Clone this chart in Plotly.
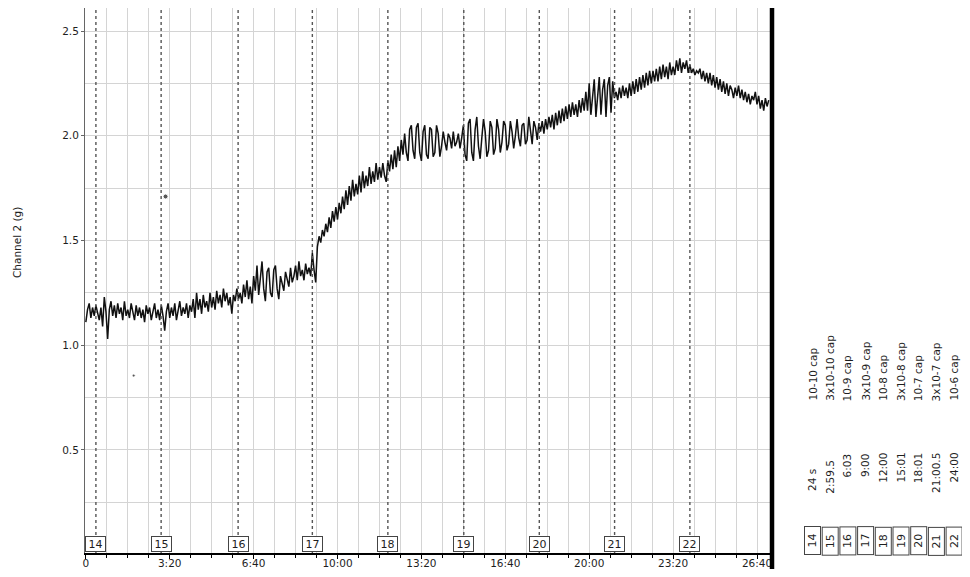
import numpy as np
import plotly.graph_objects as go

# ---------------- data ----------------
SAMPLE_STEP_S = 4  # seconds between the read samples below

channel2_g = [
    # 0 - 96 s
    1.11, 1.17, 1.20, 1.13, 1.18, 1.14, 1.19, 1.15, 1.12, 1.18, 1.09, 1.23, 1.16,
    1.03, 1.17, 1.21, 1.14, 1.19, 1.13, 1.20, 1.15, 1.18, 1.12, 1.21, 1.14,
    # 100 - 196 s
    1.17, 1.13, 1.20, 1.15, 1.12, 1.19, 1.14, 1.18, 1.13, 1.17, 1.11, 1.19, 1.15,
    1.18, 1.12, 1.16, 1.20, 1.13, 1.17, 1.12, 1.19, 1.14, 1.07, 1.16, 1.20,
    # 200 - 296 s
    1.13, 1.18, 1.14, 1.20, 1.12, 1.17, 1.21, 1.14, 1.18, 1.15, 1.20, 1.13, 1.19,
    1.16, 1.22, 1.13, 1.25, 1.17, 1.22, 1.15, 1.24, 1.18, 1.21, 1.16, 1.25,
    # 300 - 396 s
    1.18, 1.23, 1.17, 1.26, 1.20, 1.24, 1.18, 1.27, 1.21, 1.25, 1.19, 1.23, 1.15,
    1.24, 1.21, 1.27, 1.22, 1.25, 1.20, 1.29, 1.23, 1.31, 1.22, 1.28, 1.20,
    # 400 - 496 s
    1.33, 1.26, 1.38, 1.24, 1.31, 1.40, 1.27, 1.21, 1.35, 1.37, 1.25, 1.23, 1.36,
    1.38, 1.27, 1.22, 1.33, 1.30, 1.26, 1.35, 1.31, 1.28, 1.37, 1.30, 1.33,
    # 500 - 596 s
    1.38, 1.31, 1.40, 1.33, 1.36, 1.31, 1.39, 1.34, 1.37, 1.33, 1.44, 1.36, 1.30,
    1.47, 1.52, 1.49, 1.55, 1.52, 1.58, 1.54, 1.61, 1.56, 1.64, 1.59, 1.66,
    # 600 - 696 s
    1.60, 1.68, 1.63, 1.71, 1.65, 1.74, 1.67, 1.76, 1.69, 1.79, 1.71, 1.77, 1.72,
    1.81, 1.73, 1.83, 1.75, 1.81, 1.76, 1.85, 1.77, 1.83, 1.78, 1.87, 1.79,
    # 700 - 796 s
    1.85, 1.80, 1.87, 1.81, 1.78, 1.88, 1.83, 1.91, 1.84, 1.93, 1.85, 1.95, 1.88,
    1.98, 1.91, 2.01, 1.92, 1.88, 2.03, 2.05, 1.93, 1.89, 2.04, 2.06, 1.92,
    # 800 - 896 s
    1.88, 2.02, 2.05, 1.91, 1.89, 2.04, 2.03, 1.90, 1.92, 2.05, 2.01, 1.90, 1.95,
    2.02, 1.97, 1.93, 2.01, 1.99, 1.94, 2.02, 1.95, 1.97, 2.01, 1.94, 1.99,
    # 900 - 996 s
    2.05, 1.91, 1.88, 2.06, 2.08, 1.92, 1.88, 2.03, 2.09, 1.95, 1.89, 1.99, 2.08,
    2.02, 1.90, 1.93, 2.07, 2.04, 1.91, 1.94, 2.08, 2.03, 1.92, 1.97, 2.07,
    # 1000 - 1096 s
    2.05, 1.93, 1.96, 2.07, 2.02, 1.94, 2.00, 2.08, 1.99, 1.95, 2.05, 2.06, 1.96,
    1.98, 2.09, 2.01, 1.96, 2.07, 2.04, 1.98, 2.06, 2.02, 2.07, 2.01, 2.08,
    # 1100 - 1196 s
    2.03, 2.09, 2.04, 2.10, 2.03, 2.11, 2.05, 2.12, 2.06, 2.13, 2.07, 2.14, 2.08,
    2.15, 2.09, 2.16, 2.10, 2.15, 2.09, 2.17, 2.11, 2.18, 2.12, 2.21, 2.12,
    # 1200 - 1296 s
    2.25, 2.10, 2.18, 2.27, 2.09, 2.20, 2.28, 2.10, 2.22, 2.27, 2.09, 2.24, 2.28,
    2.11, 2.26, 2.18, 2.21, 2.17, 2.23, 2.18, 2.24, 2.19, 2.23, 2.18, 2.25,
    # 1300 - 1396 s
    2.19, 2.26, 2.20, 2.27, 2.21, 2.28, 2.22, 2.29, 2.23, 2.30, 2.24, 2.31, 2.25,
    2.31, 2.26, 2.32, 2.26, 2.33, 2.27, 2.34, 2.28, 2.33, 2.27, 2.35, 2.29,
    # 1400 - 1496 s
    2.33, 2.29, 2.36, 2.31, 2.37, 2.30, 2.35, 2.32, 2.36, 2.30, 2.34, 2.30, 2.32,
    2.29, 2.31, 2.30, 2.32, 2.27, 2.31, 2.26, 2.30, 2.25, 2.30, 2.24, 2.29,
    # 1500 - 1596 s
    2.23, 2.28, 2.22, 2.27, 2.21, 2.26, 2.20, 2.25, 2.19, 2.24, 2.22, 2.18, 2.23,
    2.19, 2.24, 2.18, 2.22, 2.17, 2.21, 2.16, 2.20, 2.15, 2.19, 2.17, 2.21,
    # 1600 - 1628 s
    2.15, 2.19, 2.13, 2.17, 2.12, 2.18, 2.14, 2.17,
]

# event markers (from the side table)
event_ids = ["14", "15", "16", "17", "18", "19", "20", "21", "22"]
event_time_labels = ["24 s", "2:59.5", "6:03", "9:00", "12:00", "15:01", "18:01", "21:00.5", "24:00"]
event_times_s = [24, 179.5, 363, 540, 720, 901, 1081, 1260.5, 1440]
event_desc = ["10-10 cap", "3x10-10 cap", "10-9 cap", "3x10-9 cap", "10-8 cap",
              "3x10-8 cap", "10-7 cap", "3x10-7 cap", "10-6 cap"]

# two dark specks on the scanned page
speck_t = [190, 114]
speck_g = [1.71, 0.855]

x_tick_s = [0, 200, 400, 600, 800, 1000, 1200, 1400, 1600]
x_tick_text = ["0", "3:20", "6:40", "10:00", "13:20", "16:40", "20:00", "23:20", "26:40"]
y_tick_vals = [0.5, 1.0, 1.5, 2.0, 2.5]

# ---------------- figure ----------------
PAGE_OFF = 8           # the page body margin shifts the figure by this much
W, H = 954, 561        # fits the 970x577 window together with the body margin
ML, MR, MT, MB = 77, 192, 0, 16
PW, PH = W - ML - MR, H - MT - MB


def px_x(page_px):
    return (page_px - PAGE_OFF - ML) / PW


def px_y(page_py):
    return (H - MB - (page_py - PAGE_OFF)) / PH


t = np.arange(len(channel2_g)) * SAMPLE_STEP_S

FONT = "DejaVu Sans"
INK = "#1e1e1e"
GRID = "#d4d4d4"

fig = go.Figure()
fig.add_trace(go.Scatter(x=t, y=channel2_g, mode="lines",
                         line=dict(color="#111111", width=1.5),
                         showlegend=False, hoverinfo="skip"))
fig.add_trace(go.Scatter(x=speck_t, y=speck_g, mode="markers",
                         marker=dict(color="#111111", size=[5, 3]),
                         showlegend=False, hoverinfo="skip"))

shapes = []
annotations = []

# dotted event lines + numbered boxes
for ev, ts in zip(event_ids, event_times_s):
    shapes.append(dict(type="line", xref="x", yref="paper", x0=ts, x1=ts, y0=0, y1=1,
                       line=dict(color="#555555", width=1.4, dash="dot"), layer="above"))
    annotations.append(dict(x=ts, y=0, xref="x", yref="paper", yanchor="bottom", yshift=1,
                            text=ev, showarrow=False, bgcolor="white",
                            bordercolor="#444444", borderwidth=1, borderpad=1,
                            width=17, height=12,
                            font=dict(family=FONT, size=11, color=INK)))

# thick black bar on the right edge of the plot
shapes.append(dict(type="line", xref="paper", yref="paper",
                   x0=px_x(772), x1=px_x(772), y0=px_y(580), y1=px_y(6),
                   line=dict(color="black", width=4.5), layer="above"))

# side table (rotated text)
col_x0, col_dx = 812, 17.7
time_offsets = [16, 7, 0, 0, 0, 0, 0, 0, 0]
for i, (ev, tl, ds) in enumerate(zip(event_ids, event_time_labels, event_desc)):
    cx = px_x(col_x0 + i * col_dx)
    annotations.append(dict(x=cx, y=px_y(541), xref="paper", yref="paper",
                            xanchor="center", yanchor="middle",
                            text=ev, showarrow=False, textangle=-90,
                            bordercolor="#444444", borderwidth=1, borderpad=1,
                            width=25, height=13,
                            font=dict(family=FONT, size=11, color=INK)))
    annotations.append(dict(x=cx, y=px_y(451 + time_offsets[i]), xref="paper", yref="paper",
                            xanchor="center", yanchor="top",
                            text=tl, showarrow=False, textangle=-90,
                            font=dict(family=FONT, size=10.5, color=INK)))
    annotations.append(dict(x=cx, y=px_y(403), xref="paper", yref="paper",
                            xanchor="center", yanchor="bottom",
                            text=ds, showarrow=False, textangle=-90,
                            font=dict(family=FONT, size=10.5, color=INK)))

# y-axis title
annotations.append(dict(x=px_x(17), y=px_y(243), xref="paper", yref="paper",
                        xanchor="center", yanchor="middle", text="Channel 2 (g)",
                        showarrow=False, textangle=-90,
                        font=dict(family=FONT, size=10.5, color=INK)))

fig.update_layout(
    width=W, height=H,
    margin=dict(l=ML, r=MR, t=MT, b=MB, pad=0),
    paper_bgcolor="white", plot_bgcolor="white",
    shapes=shapes, annotations=annotations,
    xaxis=dict(range=[-2, 1631], tickmode="array", tickvals=x_tick_s, ticktext=x_tick_text,
               showgrid=True, gridcolor=GRID, gridwidth=1,
               showline=True, linecolor="black", linewidth=1.5,
               ticks="outside", ticklen=4, tickcolor="black", zeroline=False,
               ticklabelstandoff=-4,
               tickfont=dict(family=FONT, size=10.5, color=INK),
               automargin=False,
               minor=dict(dtick=50, tick0=0, showgrid=True, gridcolor=GRID, gridwidth=1,
                          ticks="outside", ticklen=3, tickcolor="black")),
    yaxis=dict(range=[0.008, 2.61], tickmode="array", tickvals=y_tick_vals,
               ticktext=[f"{v:.1f}" for v in y_tick_vals],
               showgrid=True, gridcolor=GRID, gridwidth=1,
               showline=True, linecolor="#666666", linewidth=1,
               ticks="outside", ticklen=3, tickcolor="#666666", zeroline=False,
               tickfont=dict(family=FONT, size=10.5, color=INK),
               automargin=False,
               minor=dict(dtick=0.25, tick0=0, showgrid=True, gridcolor=GRID, gridwidth=1)),
)

fig.write_html("out.html")
